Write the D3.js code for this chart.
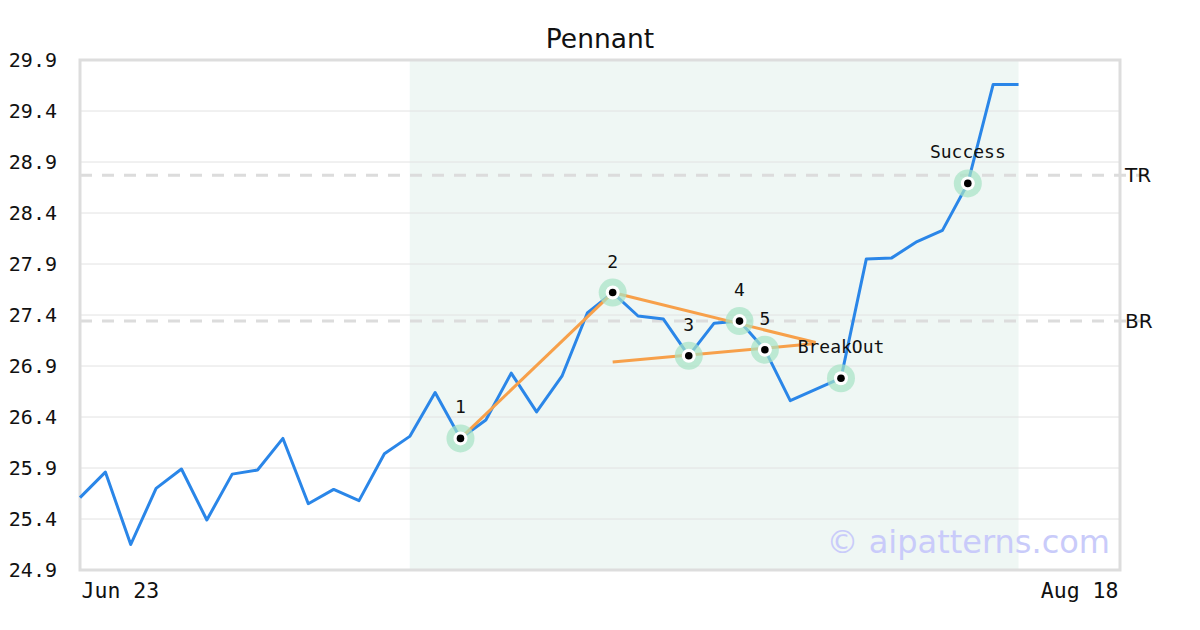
<!DOCTYPE html>
<html><head><meta charset="utf-8">
<script src="https://cdn.jsdelivr.net/npm/d3@7"></script>
<style>body{margin:0;background:#fff}svg{display:block}</style>
</head><body>
<svg id="c" width="1200" height="630"></svg>
<script>
const prices = [25.61,25.86,25.15,25.70,25.89,25.39,25.84,25.88,26.19,25.55,25.69,25.58,26.04,26.21,
  26.64,26.19,26.37,26.83,26.45,26.80,27.42,27.62,27.39,27.36,27.00,27.32,27.34,27.06,26.56,26.67,26.78,
  27.95,27.96,28.12,28.23,28.69,29.66,29.66];
const xTickLabels = [{i:0,label:"Jun 23"},{i:41,label:"Aug 18"}];
const yTicks = [24.9,25.4,25.9,26.4,26.9,27.4,27.9,28.4,28.9,29.4,29.9];
const markers = [{i:15,label:"1"},{i:21,label:"2"},{i:24,label:"3"},{i:26,label:"4"},{i:27,label:"5"},{i:30,label:"BreakOut"},{i:35,label:"Success"}];
const patternLines = [
  [{i:15,v:26.19},{i:21,v:27.62}],
  [{i:21,v:27.62},{i:29,v:27.13}],
  [{i:21,v:26.94},{i:29,v:27.12}]
];
const levels = [{name:"TR",v:28.77},{name:"BR",v:27.34}];
const shadeRange = [13,37];

const svg = d3.select("#c");
const L=80,R=1120,T=60,B=570;
const x = d3.scaleLinear().domain([0,41]).range([L,R]);
const y = d3.scaleLinear().domain([24.9,29.9]).range([B,T]);

svg.append("text").attr("x",600).attr("y",48).attr("text-anchor","middle")
  .attr("font-family","DejaVu Sans").attr("font-size",26.5).attr("fill","#111").text("Pennant");

svg.append("rect").attr("x",x(shadeRange[0])).attr("y",T).attr("width",x(shadeRange[1])-x(shadeRange[0])).attr("height",B-T).attr("fill","#eff7f4");

svg.append("g").selectAll("line").data(yTicks.slice(1,-1)).join("line")
  .attr("x1",L).attr("x2",R).attr("y1",d=>y(d)).attr("y2",d=>y(d)).attr("stroke","#e2e2e2").attr("stroke-width",1);

const ya = svg.append("g").attr("transform",`translate(${L},0)`)
  .call(d3.axisLeft(y).tickValues(yTicks).tickFormat(d3.format(".1f")).tickSize(0).tickPadding(23));
ya.select(".domain").remove();
ya.selectAll("text").attr("font-family","DejaVu Sans Mono").attr("font-size",20).attr("fill","#111");

const xa = svg.append("g").attr("transform",`translate(0,${B})`)
  .call(d3.axisBottom(x).tickValues(xTickLabels.map(d=>d.i)).tickFormat((d,k)=>xTickLabels[k].label).tickSize(0).tickPadding(13));
xa.select(".domain").remove();
xa.selectAll("text").attr("font-family","DejaVu Sans Mono").attr("font-size",21.5).attr("fill","#111")
  .attr("text-anchor",(d,k)=>k===0?"start":"end")
  .attr("dx",(d,k)=>k===0?1:-2);

// levels
levels.forEach(l=>{
  svg.append("line").attr("x1",L).attr("x2",R+30).attr("y1",y(l.v)).attr("y2",y(l.v))
    .attr("stroke","#dcdcdc").attr("stroke-width",3).attr("stroke-dasharray","12,10");
  svg.append("text").attr("x",R+5).attr("y",y(l.v)+7).attr("font-family","DejaVu Sans").attr("font-size",20).attr("fill","#111").text(l.name);
});

// watermark
svg.append("text").attr("x",1110).attr("y",553).attr("text-anchor","end").attr("font-family","DejaVu Sans")
  .attr("font-size",32).attr("fill","#c9cbfa").text("© aipatterns.com");

// frame
svg.append("rect").attr("x",L).attr("y",T).attr("width",R-L).attr("height",B-T).attr("fill","none").attr("stroke","#dddddd").attr("stroke-width",3);

// price line
const line = d3.line().x((d,i)=>x(i)).y(d=>y(d));
svg.append("path").datum(prices).attr("d",line).attr("fill","none").attr("stroke","#2a86e8").attr("stroke-width",3).attr("stroke-linejoin","round");

// pattern lines
const pl = d3.line().x(d=>x(d.i)).y(d=>y(d.v));
patternLines.forEach(p=>svg.append("path").datum(p).attr("d",pl).attr("fill","none").attr("stroke","#f7a04a").attr("stroke-width",3));

// markers
const mg = svg.append("g").selectAll("g").data(markers).join("g").attr("transform",d=>`translate(${x(d.i)},${y(prices[d.i])})`);
mg.append("circle").attr("r",14).attr("fill","#a6e2c4").attr("fill-opacity",0.7);
mg.append("circle").attr("r",7).attr("fill","#fff");
mg.append("circle").attr("r",3.8).attr("fill","#000");
mg.append("text").attr("y",-25).attr("text-anchor","middle").attr("font-family","DejaVu Sans Mono").attr("font-size",18).attr("fill","#111").text(d=>d.label);
</script>
</body></html>
